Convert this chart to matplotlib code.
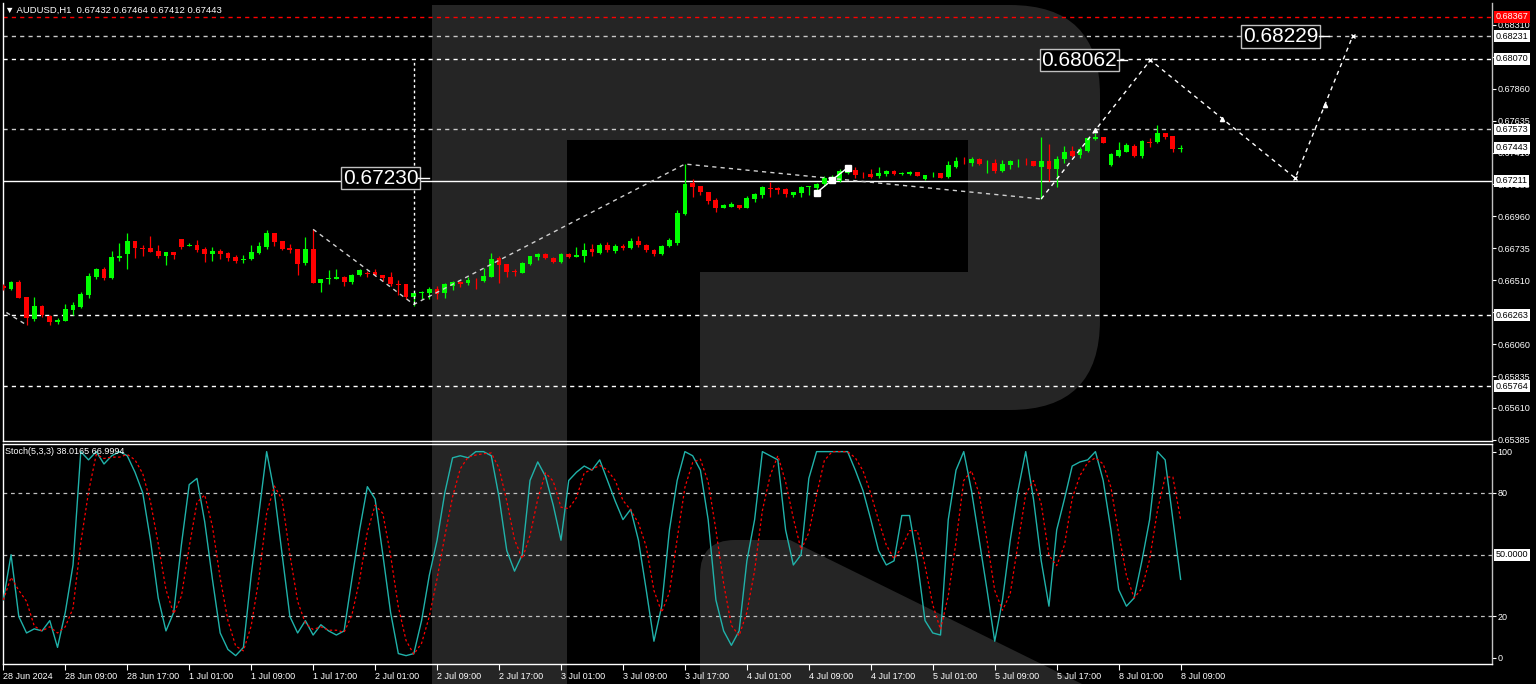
import numpy as np
import pandas as pd
import matplotlib.pyplot as plt
from matplotlib.path import Path
from matplotlib.patches import PathPatch
import matplotlib.transforms as mtransforms

plt.rcParams['font.family'] = ['Liberation Sans', 'DejaVu Sans']

# ---------------- data: AUDUSD H1 candles (bar index 0 = 28 Jun 2024) ----------------
opens = [0.66469, 0.66448, 0.66496, 0.66392, 0.66235, 0.66331, 0.66260, 0.66219, 0.66223, 0.66298,
         0.66324, 0.66406, 0.66533, 0.66592, 0.66526, 0.66665, 0.66693, 0.66789, 0.66734, 0.66735,
         0.66718, 0.66681, 0.66707, 0.66801, 0.66749, 0.66761, 0.66733, 0.66693, 0.66714, 0.66700,
         0.66674, 0.66651, 0.66660, 0.66700, 0.66747, 0.66843, 0.66787, 0.66740, 0.66733, 0.66630,
         0.66728, 0.66493, 0.66519, 0.66521, 0.66535, 0.66498, 0.66545, 0.66561, 0.66568, 0.66545,
         0.66535, 0.66484, 0.66482, 0.66394, 0.66420, 0.66422, 0.66446, 0.66418, 0.66470, 0.66500,
         0.66493, 0.66513, 0.66505, 0.66535, 0.66665, 0.66625, 0.66572, 0.66563, 0.66625, 0.66672,
         0.66697, 0.66667, 0.66641, 0.66697, 0.66676, 0.66681, 0.66728, 0.66700, 0.66759, 0.66716,
         0.66752, 0.66738, 0.66787, 0.66759, 0.66724, 0.66695, 0.66752, 0.66773, 0.66976, 0.67193,
         0.67174, 0.67134, 0.67076, 0.67021, 0.67028, 0.67040, 0.67021, 0.67083, 0.67111, 0.67160,
         0.67162, 0.67151, 0.67111, 0.67123, 0.67167, 0.67162, 0.67186, 0.67210, 0.67210, 0.67264,
         0.67287, 0.67253, 0.67259, 0.67247, 0.67257, 0.67280, 0.67262, 0.67259, 0.67275, 0.67224,
         0.67257, 0.67264, 0.67236, 0.67310, 0.67354, 0.67334, 0.67362, 0.67333, 0.67334, 0.67282,
         0.67322, 0.67351, 0.67354, 0.67353, 0.67310, 0.67353, 0.67294, 0.67362, 0.67421, 0.67391,
         0.67421, 0.67506, 0.67522, 0.67322, 0.67388, 0.67416, 0.67458, 0.67388, 0.67484, 0.67486,
         0.67546, 0.67527, 0.67432]
highs = [0.66484, 0.66505, 0.66510, 0.66392, 0.66392, 0.66338, 0.66265, 0.66246, 0.66341, 0.66355,
         0.66427, 0.66561, 0.66599, 0.66604, 0.66714, 0.66771, 0.66845, 0.66789, 0.66759, 0.66822,
         0.66759, 0.66711, 0.66707, 0.66801, 0.66771, 0.66794, 0.66742, 0.66742, 0.66728, 0.66707,
         0.66688, 0.66688, 0.66759, 0.66782, 0.66864, 0.66843, 0.66787, 0.66766, 0.66733, 0.66813,
         0.66869, 0.66521, 0.66582, 0.66589, 0.66540, 0.66554, 0.66589, 0.66577, 0.66589, 0.66545,
         0.66566, 0.66512, 0.66482, 0.66418, 0.66437, 0.66465, 0.66470, 0.66493, 0.66507, 0.66507,
         0.66535, 0.66524, 0.66594, 0.66700, 0.66681, 0.66625, 0.66589, 0.66641, 0.66681, 0.66700,
         0.66702, 0.66674, 0.66699, 0.66702, 0.66742, 0.66775, 0.66766, 0.66773, 0.66780, 0.66766,
         0.66766, 0.66808, 0.66822, 0.66766, 0.66731, 0.66759, 0.66808, 0.67005, 0.67329, 0.67224,
         0.67174, 0.67134, 0.67088, 0.67047, 0.67064, 0.67040, 0.67104, 0.67123, 0.67176, 0.67205,
         0.67165, 0.67162, 0.67134, 0.67176, 0.67174, 0.67198, 0.67247, 0.67252, 0.67294, 0.67308,
         0.67310, 0.67271, 0.67294, 0.67310, 0.67287, 0.67287, 0.67273, 0.67280, 0.67275, 0.67255,
         0.67275, 0.67266, 0.67353, 0.67377, 0.67381, 0.67377, 0.67370, 0.67358, 0.67362, 0.67358,
         0.67358, 0.67362, 0.67370, 0.67353, 0.67518, 0.67470, 0.67386, 0.67456, 0.67456, 0.67447,
         0.67520, 0.67546, 0.67522, 0.67405, 0.67482, 0.67475, 0.67470, 0.67499, 0.67510, 0.67606,
         0.67546, 0.67527, 0.67464]
lows = [0.66441, 0.66441, 0.66385, 0.66195, 0.66225, 0.66249, 0.66195, 0.66200, 0.66223, 0.66265,
        0.66312, 0.66387, 0.66517, 0.66510, 0.66517, 0.66646, 0.66592, 0.66667, 0.66679, 0.66707,
        0.66665, 0.66618, 0.66660, 0.66733, 0.66749, 0.66711, 0.66641, 0.66648, 0.66660, 0.66648,
        0.66634, 0.66634, 0.66655, 0.66695, 0.66733, 0.66749, 0.66725, 0.66700, 0.66547, 0.66618,
        0.66489, 0.66430, 0.66484, 0.66517, 0.66470, 0.66484, 0.66540, 0.66531, 0.66540, 0.66505,
        0.66470, 0.66406, 0.66376, 0.66329, 0.66376, 0.66376, 0.66376, 0.66387, 0.66441, 0.66463,
        0.66477, 0.66446, 0.66500, 0.66531, 0.66493, 0.66535, 0.66540, 0.66559, 0.66618, 0.66653,
        0.66660, 0.66632, 0.66635, 0.66670, 0.66676, 0.66641, 0.66681, 0.66695, 0.66709, 0.66702,
        0.66724, 0.66731, 0.66745, 0.66709, 0.66681, 0.66688, 0.66745, 0.66759, 0.66970, 0.67099,
        0.67111, 0.67045, 0.66989, 0.67019, 0.67024, 0.67010, 0.67017, 0.67064, 0.67088, 0.67099,
        0.67116, 0.67097, 0.67099, 0.67099, 0.67111, 0.67134, 0.67176, 0.67196, 0.67203, 0.67259,
        0.67229, 0.67233, 0.67229, 0.67233, 0.67247, 0.67252, 0.67255, 0.67255, 0.67245, 0.67220,
        0.67240, 0.67231, 0.67231, 0.67303, 0.67327, 0.67315, 0.67322, 0.67264, 0.67264, 0.67275,
        0.67292, 0.67306, 0.67322, 0.67312, 0.67083, 0.67212, 0.67169, 0.67334, 0.67377, 0.67370,
        0.67417, 0.67498, 0.67477, 0.67317, 0.67381, 0.67412, 0.67382, 0.67370, 0.67451, 0.67475,
        0.67503, 0.67416, 0.67412]
closes = [0.66455, 0.66496, 0.66387, 0.66242, 0.66331, 0.66265, 0.66216, 0.66230, 0.66308, 0.66338,
          0.66413, 0.66542, 0.66589, 0.66528, 0.66674, 0.66681, 0.66789, 0.66735, 0.66727, 0.66711,
          0.66679, 0.66707, 0.66688, 0.66747, 0.66761, 0.66723, 0.66693, 0.66714, 0.66693, 0.66669,
          0.66648, 0.66662, 0.66707, 0.66754, 0.66843, 0.66780, 0.66733, 0.66725, 0.66625, 0.66728,
          0.66493, 0.66521, 0.66526, 0.66535, 0.66498, 0.66547, 0.66582, 0.66557, 0.66545, 0.66526,
          0.66482, 0.66480, 0.66394, 0.66418, 0.66424, 0.66446, 0.66411, 0.66484, 0.66500, 0.66482,
          0.66512, 0.66510, 0.66540, 0.66658, 0.66618, 0.66570, 0.66568, 0.66630, 0.66681, 0.66695,
          0.66667, 0.66641, 0.66693, 0.66676, 0.66688, 0.66724, 0.66711, 0.66759, 0.66724, 0.66752,
          0.66738, 0.66787, 0.66759, 0.66724, 0.66695, 0.66752, 0.66794, 0.66984, 0.67185, 0.67169,
          0.67130, 0.67069, 0.67021, 0.67040, 0.67050, 0.67021, 0.67092, 0.67116, 0.67167, 0.67156,
          0.67146, 0.67116, 0.67130, 0.67167, 0.67171, 0.67186, 0.67229, 0.67238, 0.67280, 0.67287,
          0.67252, 0.67250, 0.67240, 0.67264, 0.67280, 0.67257, 0.67266, 0.67275, 0.67247, 0.67252,
          0.67261, 0.67233, 0.67322, 0.67353, 0.67351, 0.67362, 0.67327, 0.67336, 0.67282, 0.67329,
          0.67348, 0.67354, 0.67351, 0.67315, 0.67353, 0.67292, 0.67365, 0.67416, 0.67388, 0.67433,
          0.67515, 0.67522, 0.67479, 0.67398, 0.67428, 0.67463, 0.67388, 0.67491, 0.67480, 0.67546,
          0.67522, 0.67433, 0.67443]

# Stochastic(5,3,3) main line, read per bar
stoch_k = [28, 50, 20, 12, 14, 13, 18, 5, 22, 45,
           100, 96, 100, 94, 98, 100, 98, 90, 80, 57,
           29, 13, 22, 55, 84, 87, 66, 38, 12, 4,
           1, 5, 40, 70, 100, 80, 50, 20, 12, 18,
           11, 16, 13, 11, 13, 38, 62, 83, 77, 50,
           22, 2, 1, 2, 18, 40, 57, 80, 97, 98,
           97, 100, 100, 98, 78, 52, 42, 50, 86, 95,
           88, 74, 57, 86, 90, 93, 91, 96, 86, 76,
           67, 72, 57, 33, 8, 25, 62, 86, 100, 98,
           91, 67, 28, 13, 6, 13, 47, 67, 100, 98,
           96, 62, 45, 50, 87, 100, 100, 100, 100, 100,
           91, 81, 67, 52, 45, 47, 69, 69, 47, 18,
           12, 11, 67, 91, 100, 81, 57, 33, 8, 28,
           57, 81, 100, 77, 47, 25, 62, 77, 93, 95,
           96, 100, 86, 62, 33, 25, 29, 47, 67, 100,
           96, 67, 38.0165]

time_labels = ["28 Jun 2024", "28 Jun 09:00", "28 Jun 17:00", "1 Jul 01:00", "1 Jul 09:00",
               "1 Jul 17:00", "2 Jul 01:00", "2 Jul 09:00", "2 Jul 17:00", "3 Jul 01:00",
               "3 Jul 09:00", "3 Jul 17:00", "4 Jul 01:00", "4 Jul 09:00", "4 Jul 17:00",
               "5 Jul 01:00", "5 Jul 09:00", "5 Jul 17:00", "8 Jul 01:00", "8 Jul 09:00"]
time_label_bars = list(range(0, 153, 8))

price_ticks = [0.65385, 0.65610, 0.65835, 0.66060, 0.66285, 0.66510, 0.66735, 0.66960,
               0.67185, 0.67410, 0.67635, 0.67860, 0.68085, 0.68310]

# horizontal levels: (price, colour, style)
level_prices = [0.68367, 0.68231, 0.68070, 0.67573, 0.67211, 0.66263, 0.65764]
level_colors = ['#ff0000', '#c8c8c8', '#ffffff', '#c8c8c8', '#ffffff', '#ffffff', '#ffffff']
level_styles = ['--', '--', '--', '--', '-', '--', '--']
axis_boxes = [0.68231, 0.68070, 0.67573, 0.67443, 0.67211, 0.66263, 0.65764]

# zigzag pivots (bar, price) and forecast path
zig_bars = [40, 53, 88, 134]
zig_prices = [0.66869, 0.66340, 0.67329, 0.67083]
fc_bars = [134, 148.1, 166.8, 174.2]
fc_prices = [0.67083, 0.68062, 0.67230, 0.68229]
fc_arrow_bars = [141.0, 157.4, 170.6]
marker_bars = [105, 107, 109]
marker_prices = [0.67127, 0.67217, 0.67303]

# ---------------- figure ----------------
W, H = 1536, 684
fig = plt.figure(figsize=(W / 100, H / 100), dpi=100, facecolor='black')

# background watermark (pixel coordinates)
bg = fig.add_axes([0, 0, 1, 1])
bg.set_xlim(0, W)
bg.set_ylim(H, 0)
bg.axis('off')
wm = '#252525'
M, L, C3, CL = Path.MOVETO, Path.LINETO, Path.CURVE3, Path.CLOSEPOLY
upper = Path([(432, 5), (1010, 5), (1100, 5), (1100, 95), (1100, 320), (1100, 410), (1010, 410),
              (700, 410), (700, 272), (968, 272), (968, 140), (567, 140), (567, 684), (432, 684),
              (432, 5)],
             [M, L, C3, C3, L, C3, C3, L, L, L, L, L, L, L, CL])
leg = Path([(700, 684), (700, 575), (700, 540), (735, 540), (790, 540), (1082, 684), (700, 684)],
           [M, L, C3, C3, L, L, CL])
bg.add_patch(PathPatch(upper, fc=wm, ec='none'))
bg.add_patch(PathPatch(leg, fc=wm, ec='none'))

left, right = 3 / W, 1492 / W
ax = fig.add_axes([left, 1 - 441 / H, right - left, (441 - 3) / H])
ax2 = fig.add_axes([left, 1 - 664 / H, right - left, (664 - 444) / H])
for a in (ax, ax2):
    a.set_facecolor('none')
    for s in a.spines.values():
        s.set_color('white')
        s.set_linewidth(1)
    a.spines['right'].set_color('#c0c0c0')
    a.set_xlim(-0.04, 192.2)
    a.tick_params(colors='white', labelsize=6.5, length=3, width=0.8, pad=1)
    a.yaxis.tick_right()
ax.spines['top'].set_visible(False)

n = len(opens)
x = np.arange(n)
o, h, l, c = map(np.array, (opens, highs, lows, closes))
up = c >= o
cols = np.where(up, '#00ff00', '#ff0000')

# candles
ax.vlines(x, l, h, colors=cols, lw=0.9, zorder=3)
body_lo = np.minimum(o, c)
body_h = np.maximum(np.abs(c - o), 0.000012)
ax.bar(x, body_h, bottom=body_lo, width=0.62, color=cols, lw=0, zorder=3)

# levels
for p, col, ls in zip(level_prices, level_colors, level_styles):
    ax.axhline(p, color=col, ls=ls, lw=1, dashes=(3, 3) if ls == '--' else (None, None), zorder=2)

ax.set_ylim(0.653773, 0.68464)
ax.set_yticks(price_ticks)
ax.set_yticklabels([f"{p:.5f}" for p in price_ticks])
ax.set_xticks([])

yt = mtransforms.blended_transform_factory(ax.transAxes, ax.transData)
for p in axis_boxes:
    ax.text(1.0025, p, f"{p:.5f}", transform=yt, ha='left', va='center', fontsize=6.5,
            color='black', zorder=6, clip_on=False,
            bbox=dict(boxstyle='square,pad=0.15', fc='white', ec='none'))
ax.text(1.0025, 0.68367, "0.68367", transform=yt, ha='left', va='center', fontsize=6.5,
        color='white', zorder=6, clip_on=False,
        bbox=dict(boxstyle='square,pad=0.15', fc='#ff0000', ec='none'))

# zigzag lines
ax.plot([0.4, 3], [0.66283, lows[3]], color='#d0d0d0', lw=1, ls=(0, (3, 3)), zorder=4)
ax.plot(zig_bars, zig_prices, color='#d0d0d0', lw=1, ls=(0, (3, 3)), zorder=4)
ax.vlines(zig_bars[1], zig_prices[1], 0.68062, colors='white', lw=1, linestyles=(0, (2, 2)), zorder=4)
ax.plot(fc_bars, fc_prices, color='white', lw=1, ls=(0, (3, 3)), zorder=4)
ax.plot(fc_arrow_bars, np.interp(fc_arrow_bars, fc_bars, fc_prices), ls='none', marker='^',
        ms=3, color='white', zorder=4)
ax.plot(fc_bars[1:], fc_prices[1:], ls='none', marker='x', ms=3, mew=1, color='white', zorder=4)
ax.plot(marker_bars, marker_prices, color='white', lw=1, marker='s', ms=4, zorder=5)

# price labels on forecast
for bx, p in [(53.6, 0.67230), (143.8, 0.68062), (169.8, 0.68229)]:
    ax.text(bx, p, f"{p:.5f}", ha='right', va='center', fontsize=15, color='white', zorder=6,
            bbox=dict(boxstyle='square,pad=0.08', fc='black', ec='#c0c0c0', lw=1))
    ax.plot([bx, bx + 1.3], [p, p], color='white', lw=1, zorder=6)

# stochastic
k = pd.Series(stoch_k, dtype=float)
d = k.rolling(3, min_periods=1).mean()
ax2.plot(x, k, color='#20b2aa', lw=1, zorder=4)
ax2.plot(x, d, color='#ff0000', lw=0.9, ls=(0, (2, 2)), zorder=4)
for lv in (80, 50, 20):
    ax2.axhline(lv, color='#c0c0c0', lw=0.9, ls=(0, (3, 3)), zorder=2)
ax2.set_ylim(-3.06, 103.7)
ax2.set_yticks([0, 20, 80, 100])
ax2.set_yticklabels(['0', '20', '80', '100'])
yt2 = mtransforms.blended_transform_factory(ax2.transAxes, ax2.transData)
ax2.text(1.0025, 50, "50.0000", transform=yt2, ha='left', va='center', fontsize=6.5, color='black',
         zorder=6, clip_on=False, bbox=dict(boxstyle='square,pad=0.15', fc='white', ec='none'))
ax2.set_xticks(time_label_bars)
ax2.set_xticklabels(time_labels, ha='left')
ax2.tick_params(axis='x', length=4, pad=2)

# header texts
fig.text(5 / W, 1 - 10 / H, "\u25bc AUDUSD,H1  0.67432 0.67464 0.67412 0.67443", color='white',
         fontsize=6.8, va='center', ha='left')
fig.text(5 / W, 1 - 452 / H, "Stoch(5,3,3) 38.0165 66.9994", color='white', fontsize=6.5,
         va='center', ha='left')

fig.savefig('out.png', dpi=100, facecolor='black')
